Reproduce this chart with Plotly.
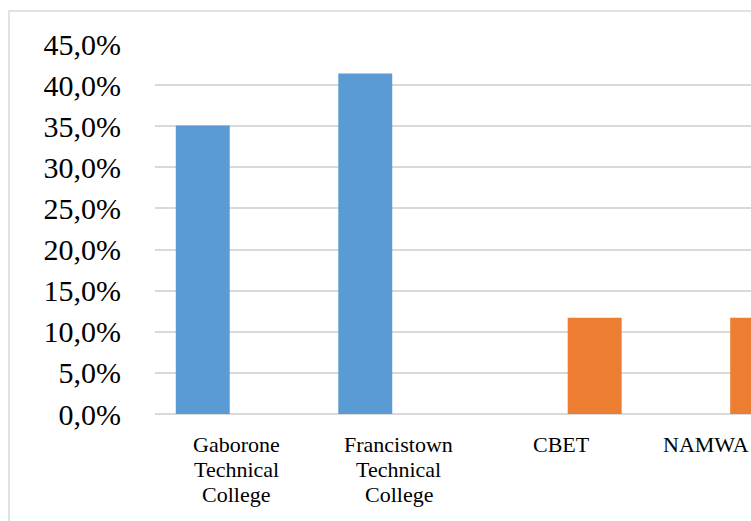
import plotly.graph_objects as go

# Categories and the two series (share of respondents)
categories = ["Gaborone Technical College", "Francistown Technical College", "CBET", "NAMWA"]
label_lines = [["Gaborone", "Technical", "College"],
               ["Francistown", "Technical", "College"],
               ["CBET"],
               ["NAMWA"]]
botswana = [0.351, 0.414, None, None]
namibia = [None, None, 0.117, 0.117]

y_ticks = [0.0, 0.05, 0.10, 0.15, 0.20, 0.25, 0.30, 0.35, 0.40, 0.45]

fig = go.Figure()
fig.add_trace(go.Bar(x=categories, y=botswana, marker=dict(color="#5B9BD5", line=dict(width=0)),
                     name="Botswana"))
fig.add_trace(go.Bar(x=categories, y=namibia, marker=dict(color="#ED7D31", line=dict(width=0)),
                     name="Namibia"))

font_family = "'Liberation Serif', 'Times New Roman', Tinos, serif"

# Category labels, one line at a time for tight line spacing
label_size = 22
line_step = 25.4
annotations = []
last = len(categories) - 1
for i, (cat, lines) in enumerate(zip(categories, label_lines)):
    for j, line in enumerate(lines):
        ann = dict(text=line, yref="paper", y=0, yanchor="middle",
                   yshift=-30 - line_step * j, showarrow=False,
                   font=dict(size=label_size, family=font_family, color="#000000"))
        if i == last:
            # keep the right-most label inside the canvas
            ann.update(xref="paper", x=1, xanchor="right")
        else:
            ann.update(xref="x", x=cat, xanchor="center")
        annotations.append(ann)

fig.update_layout(
    width=751, height=521,
    margin=dict(l=155, r=0, t=44, b=107, autoexpand=False),
    paper_bgcolor="white", plot_bgcolor="white",
    barmode="group", bargap=0.176, bargroupgap=0.194,
    showlegend=False,
    separators=", ",
    font=dict(family=font_family, color="#000000"),
    annotations=annotations,
    shapes=[dict(type="rect", xref="paper", yref="paper",
                 x0=-0.245, x1=1.05, y0=-0.35, y1=1.0892,
                 line=dict(color="#d9d9d9", width=1.5), layer="below")],
)

fig.update_xaxes(
    type="category", range=[-0.5, 3.168], automargin=False,
    showgrid=False, showline=False, zeroline=False,
    ticks="", showticklabels=False,
)
fig.update_yaxes(
    range=[0, 0.45], tickvals=y_ticks, tickformat=".1%", automargin=False,
    showgrid=True, gridcolor="#d9d9d9", gridwidth=1.5,
    zeroline=True, zerolinecolor="#d9d9d9", zerolinewidth=1.5,
    showline=False, ticks="",
    tickfont=dict(size=30, family=font_family, color="#000000"),
    ticklabelstandoff=33,
)

fig.write_html("out.html")
